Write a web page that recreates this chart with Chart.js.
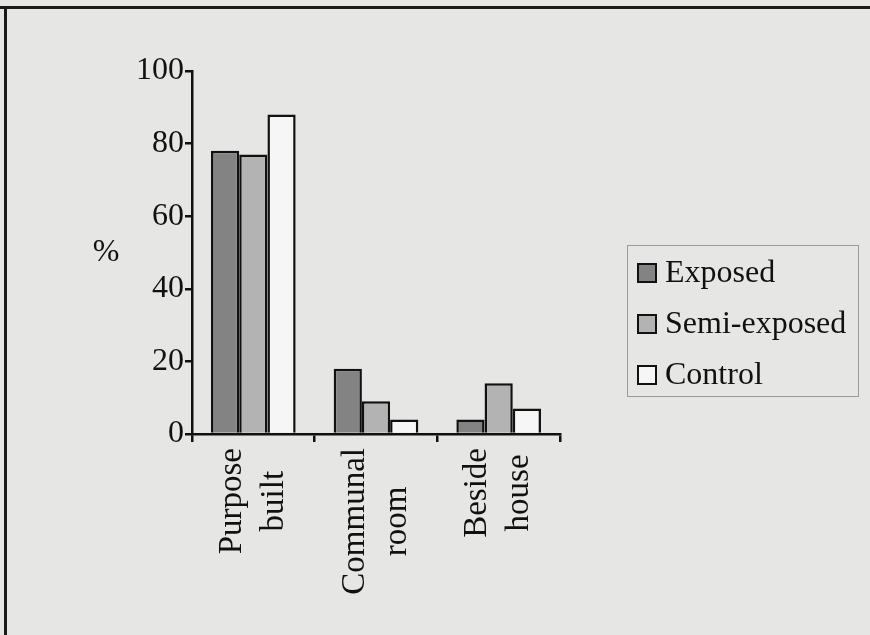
<!DOCTYPE html>
<html>
<head>
<meta charset="utf-8">
<script src="https://cdn.jsdelivr.net/npm/chart.js@4/dist/chart.umd.min.js"></script>
<style>
  html,body{margin:0;padding:0;background:#e6e6e4;}
  #wrap{position:relative;width:870px;height:635px;}
  canvas{display:block;}
</style>
</head>
<body>
<div id="wrap"><canvas id="chart" width="870" height="635"></canvas></div>
<script>
// ---- data ----
const categories = [['Purpose','built'], ['Communal','room'], ['Beside','house']];
const seriesNames = ['Exposed', 'Semi-exposed', 'Control'];
const exposed     = [78, 18, 4];
const semiExposed = [77, 9, 14];
const control     = [88, 4, 7];
const yTicks = [0, 20, 40, 60, 80, 100];
const yLabel = '%';

const SERIF = "'Liberation Serif', 'Times New Roman', serif";
const fills = ['#838383', '#b3b3b3', '#f6f6f6'];

// frame + "%" + x labels + legend drawn on top of the chart
const decor = {
  id:'decor',
  beforeDraw(chart){
    const c = chart.ctx;
    c.save();
    c.fillStyle = '#e6e6e4';
    c.fillRect(0,0,chart.width,chart.height);
    // page frame
    c.fillStyle = '#1a1a1a';
    c.fillRect(0,6,chart.width,3);
    c.fillRect(4,6,3,chart.height-6);
    c.restore();
  },
  afterDraw(chart){
    const c = chart.ctx;
    const xs = chart.scales.x;
    c.save();
    c.fillStyle = '#111';
    c.font = '32px ' + SERIF;

    // y label
    c.textAlign = 'center';
    c.textBaseline = 'middle';
    c.fillText(yLabel, 106, 253);

    // x labels, rotated, lines centered on each other
    c.font = '33px ' + SERIF;
    const lh = 42;
    categories.forEach((lines, i) => {
      const cx = xs.getPixelForValue(i);
      const maxW = Math.max(...lines.map(l => c.measureText(l).width));
      const cy = 448 + maxW/2;
      lines.forEach((txt, j) => {
        const off = (j - (lines.length-1)/2) * lh;
        c.save();
        c.translate(cx + off, cy);
        c.rotate(-Math.PI/2);
        c.fillText(txt, 0, 0);
        c.restore();
      });
    });

    // legend
    c.font = '32px ' + SERIF;
    c.strokeStyle = '#9a9a9a';
    c.lineWidth = 1;
    c.strokeRect(627.5, 245.5, 231, 151);
    c.textAlign = 'left';
    chart.data.datasets.forEach((ds, i) => {
      const cy = 273 + i*51;
      c.fillStyle = ds.backgroundColor;
      c.fillRect(637, cy-10, 20, 20);
      c.strokeStyle = '#111';
      c.lineWidth = 2;
      c.strokeRect(638, cy-9, 18, 18);
      c.fillStyle = '#111';
      c.fillText(ds.label, 665, cy+1);
    });
    c.restore();
  }
};

const datasets = [exposed, semiExposed, control].map((d, i) => ({
  label: seriesNames[i],
  data: d,
  backgroundColor: fills[i],
  borderColor: '#111',
  borderWidth: 2.5,
  borderSkipped: 'bottom',
  categoryPercentage: 0.69,
  barPercentage: 1.0
}));

new Chart(document.getElementById('chart'), {
  type: 'bar',
  data: { labels: categories.map(l => l.join(' ')), datasets },
  options: {
    responsive: false,
    animation: false,
    events: [],
    layout: { padding: { left: 0, right: 310, top: 71, bottom: 0 } },
    plugins: { legend: { display: false }, tooltip: { enabled: false } },
    scales: {
      x: {
        offset: true,
        grid: { offset: true, drawOnChartArea: false, drawTicks: true, tickLength: 8, color: '#111', lineWidth: 2.5 },
        border: { display: true, color: '#111', width: 2.5 },
        ticks: { display: false },
        afterFit(s){ s.height = 201; }
      },
      y: {
        min: 0, max: 100,
        afterBuildTicks(s){ s.ticks = yTicks.map(v => ({ value: v })); },
        grid: { drawOnChartArea: false, drawTicks: true, tickLength: 7, color: '#111', lineWidth: 2.5 },
        border: { display: true, color: '#111', width: 2.5 },
        ticks: { color: '#111', font: { family: SERIF, size: 32 }, padding: 1 },
        afterFit(s){ s.width = 192; }
      }
    }
  },
  plugins: [decor]
});
</script>
</body>
</html>
